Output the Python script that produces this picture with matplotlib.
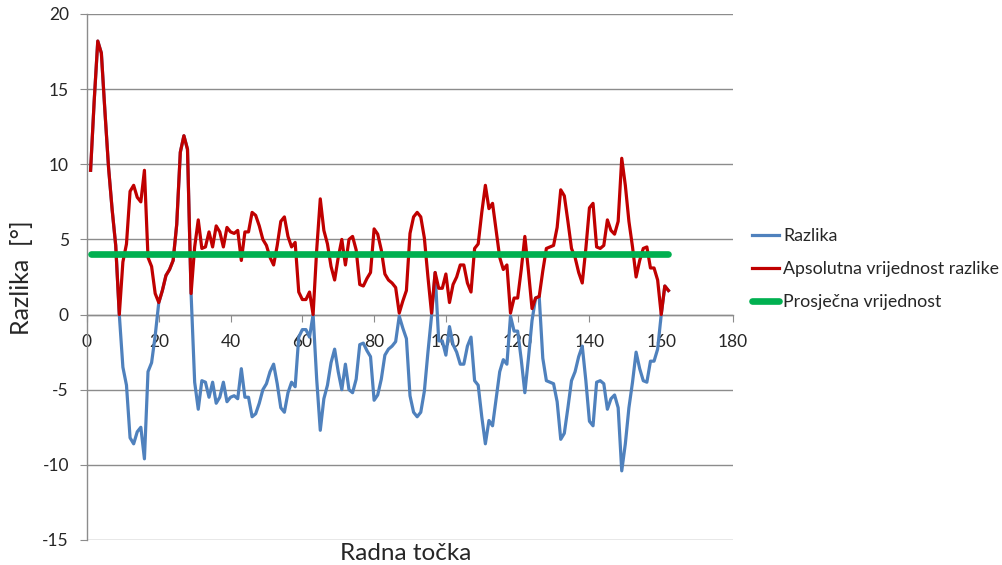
import matplotlib
matplotlib.use("Agg")
import matplotlib.pyplot as plt

plt.rcParams['font.family'] = ['Lato', 'DejaVu Sans']
plt.rcParams['axes.unicode_minus'] = False

# Data
razlika = [
    9.6, 14.2, 18.2, 17.4, 13.5, 9.8, 7.0, 4.6, 0.0, -3.5,
    -4.7, -8.2, -8.6, -7.8, -7.5, -9.6, -3.8, -3.2, -1.4, 0.8,
    1.6, 2.6, 3.0, 3.6, 6.0, 10.8, 11.9, 11.0, 1.4, -4.5,
    -6.3, -4.4, -4.5, -5.5, -4.5, -5.9, -5.5, -4.5, -5.8, -5.5,
    -5.4, -5.6, -3.6, -5.5, -5.5, -6.8, -6.6, -5.9, -5.0, -4.6,
    -3.8, -3.3, -4.6, -6.2, -6.5, -5.2, -4.5, -4.8, -1.5, -1.0,
    -1.0, -1.5, 0.0, -4.3, -7.7, -5.6, -4.7, -3.2, -2.3, -3.8,
    -5.0, -3.3, -5.0, -5.2, -4.3, -2.0, -1.9, -2.4, -2.8, -5.7,
    -5.35, -4.3, -2.7, -2.3, -2.1, -1.8, -0.1, -0.9, -1.6, -5.4,
    -6.5, -6.8, -6.5, -5.1, -2.5, -0.1, 2.8, -1.75, -1.75, -2.7,
    -0.8, -2.0, -2.5, -3.3, -3.3, -2.1, -1.5, -4.4, -4.7, -6.8,
    -8.6, -7.05, -7.4, -5.6, -3.8, -3.0, -3.3, -0.1, -1.1, -1.1,
    -3.0, -5.2, -2.9, -0.4, 1.1, 1.2, -2.9, -4.4, -4.5, -4.6,
    -5.8, -8.3, -7.9, -6.2, -4.4, -3.8, -2.8, -2.1, -4.4, -7.1,
    -7.4, -4.5, -4.4, -4.6, -6.3, -5.6, -5.35, -6.2, -10.4, -8.6,
    -6.2, -4.5, -2.5, -3.6, -4.4, -4.5, -3.1, -3.1, -2.3, 0.0,
    1.9, 1.6,
]
apsolutna = [
    9.6, 14.2, 18.2, 17.4, 13.5, 9.8, 7.0, 4.6, 0.0, 3.5,
    4.7, 8.2, 8.6, 7.8, 7.5, 9.6, 3.8, 3.2, 1.4, 0.8,
    1.6, 2.6, 3.0, 3.6, 6.0, 10.8, 11.9, 11.0, 1.4, 4.5,
    6.3, 4.4, 4.5, 5.5, 4.5, 5.9, 5.5, 4.5, 5.8, 5.5,
    5.4, 5.6, 3.6, 5.5, 5.5, 6.8, 6.6, 5.9, 5.0, 4.6,
    3.8, 3.3, 4.6, 6.2, 6.5, 5.2, 4.5, 4.8, 1.5, 1.0,
    1.0, 1.5, 0.0, 4.3, 7.7, 5.6, 4.7, 3.2, 2.3, 3.8,
    5.0, 3.3, 5.0, 5.2, 4.3, 2.0, 1.9, 2.4, 2.8, 5.7,
    5.35, 4.3, 2.7, 2.3, 2.1, 1.8, 0.1, 0.9, 1.6, 5.4,
    6.5, 6.8, 6.5, 5.1, 2.5, 0.1, 2.8, 1.75, 1.75, 2.7,
    0.8, 2.0, 2.5, 3.3, 3.3, 2.1, 1.5, 4.4, 4.7, 6.8,
    8.6, 7.05, 7.4, 5.6, 3.8, 3.0, 3.3, 0.1, 1.1, 1.1,
    3.0, 5.2, 2.9, 0.4, 1.1, 1.2, 2.9, 4.4, 4.5, 4.6,
    5.8, 8.3, 7.9, 6.2, 4.4, 3.8, 2.8, 2.1, 4.4, 7.1,
    7.4, 4.5, 4.4, 4.6, 6.3, 5.6, 5.35, 6.2, 10.4, 8.6,
    6.2, 4.5, 2.5, 3.6, 4.4, 4.5, 3.1, 3.1, 2.3, 0.0,
    1.9, 1.6,
]
prosjek = 4.0
radna_tocka = list(range(1, len(razlika) + 1))

x_ticks = [0, 20, 40, 60, 80, 100, 120, 140, 160, 180]
y_ticks = [-15, -10, -5, 0, 5, 10, 15, 20]

W, H = 1003, 565
fig = plt.figure(figsize=(W / 100, H / 100), dpi=100)
left, right, top, bottom = 87, 733, 14, 540
ax = fig.add_axes([left / W, 1 - bottom / H, (right - left) / W, (bottom - top) / H])

grid_c = '#8c8c8c'
text_c = '#262626'

ax.plot(radna_tocka, razlika, color='#4F81BD', lw=2.3, label='Razlika', zorder=3)
ax.plot(radna_tocka, apsolutna, color='#C00000', lw=2.3,
        label='Apsolutna vrijednost razlike', zorder=4)
ax.plot(radna_tocka, [prosjek] * len(radna_tocka), color='#00B050', lw=4.8,
        solid_capstyle='round', label='Prosječna vrijednost', zorder=5)

ax.set_xlim(0, 180)
ax.set_ylim(-15, 20)
ax.set_xticks(x_ticks)
ax.set_yticks(y_ticks)
ax.set_xticklabels([str(t) for t in x_ticks])
ax.set_yticklabels([str(t) for t in y_ticks])

ax.yaxis.grid(True, color=grid_c, lw=1.0)
ax.set_axisbelow(True)
for s in ['top', 'right']:
    ax.spines[s].set_visible(False)
ax.spines['left'].set_color(grid_c)
ax.spines['bottom'].set_color(grid_c)
ax.spines['bottom'].set_position(('data', 0))
ax.spines['left'].set_linewidth(1.0)
ax.spines['bottom'].set_linewidth(1.0)
ax.tick_params(axis='x', direction='out', length=5, color=grid_c, labelsize=12.5,
               labelcolor=text_c, pad=9)
ax.tick_params(axis='y', direction='out', length=5, color=grid_c, labelsize=12.5,
               labelcolor=text_c, pad=8)

fig.text((left + 725) / 2 / W, 1 - 553 / H, 'Radna točka', ha='center', va='center',
         fontsize=17.5, color=text_c)
fig.text(22 / W, 1 - 278 / H, 'Razlika  [°]', ha='center', va='center', rotation=90,
         fontsize=18, color=text_c)

fig.legend(loc='center left', bbox_to_anchor=(743 / W, 1 - 269 / H), frameon=False,
           fontsize=12.8, handlelength=1.5, handletextpad=0.25, labelspacing=0.95,
           labelcolor=text_c, borderpad=0)

fig.savefig('out.png', dpi=100, facecolor='white')
